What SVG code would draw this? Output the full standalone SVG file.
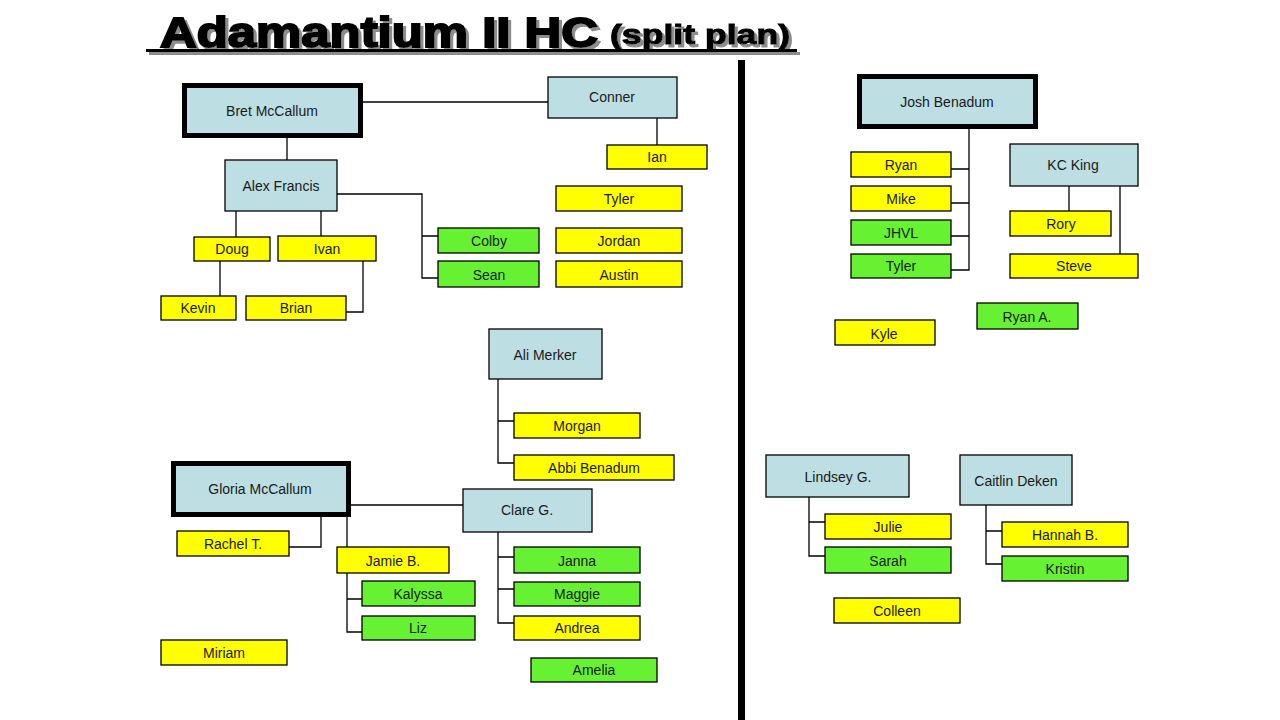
<svg xmlns="http://www.w3.org/2000/svg" width="1280" height="720" viewBox="0 0 1280 720">
<defs>
<filter id="sh" x="-5%" y="-30%" width="110%" height="160%">
  <feFlood flood-color="#8c8c8c" result="c"/>
  <feComposite in="c" in2="SourceAlpha" operator="in" result="s"/>
  <feOffset in="s" dx="3" dy="3" result="o"/>
  <feMerge><feMergeNode in="o"/><feMergeNode in="SourceGraphic"/></feMerge>
</filter>
</defs>
<style>
.b{fill:#bddfe3;stroke:#000;stroke-width:1.3}
.y{fill:#ffff00;stroke:#000;stroke-width:1.3}
.g{fill:#66f233;stroke:#000;stroke-width:1.3}
.k{stroke-width:5}
.t{font-family:"Liberation Sans",Arial,sans-serif;font-size:14px;text-anchor:middle;dominant-baseline:central;fill:#1a1a1a}
.c{fill:none;stroke:#000;stroke-width:1.3}
.ttl{font-family:"Liberation Sans",Arial,sans-serif;font-weight:bold}
</style>
<rect width="1280" height="720" fill="#fff"/>
<g id="title" filter="url(#sh)" fill="#000" stroke="#000">
  <text class="ttl" x="160" y="47" font-size="43" stroke-width="2" textLength="438" lengthAdjust="spacingAndGlyphs">Adamantium II HC</text>
  <text class="ttl" x="610" y="44" font-size="27" stroke-width="1" textLength="180" lengthAdjust="spacingAndGlyphs">(split plan)</text>
  <rect x="146" y="49" width="651" height="3" stroke="none"/>
</g>
<rect id="divider" x="738" y="60" width="7" height="660" fill="#000"/>
<g id="connectors">
  <path class="c" d="M363 102H548"/>
  <path class="c" d="M657 118V145"/>
  <path class="c" d="M287 138V160"/>
  <path class="c" d="M337 194H422V278H438M422 236H438"/>
  <path class="c" d="M236 211V237"/>
  <path class="c" d="M321 211V236"/>
  <path class="c" d="M220 261V296"/>
  <path class="c" d="M363 261V312H346"/>
  <path class="c" d="M498 379V463H514M498 421H514"/>
  <path class="c" d="M351 505H463"/>
  <path class="c" d="M321 517V547H289"/>
  <path class="c" d="M347 517V547M347 573V632H362M347 599H362"/>
  <path class="c" d="M498 532V623H514M498 557H514M498 589H514"/>
  <path class="c" d="M969 129V270H951M969 169H951M969 203H951M969 236H951"/>
  <path class="c" d="M1069 186V211"/>
  <path class="c" d="M1120 186V254"/>
  <path class="c" d="M809 497V556H825M809 522H825"/>
  <path class="c" d="M986 505V564H1002M986 531H1002"/>
</g>
<g id="bret"><rect class="b k" x="184.5" y="85.5" width="176" height="50"/><text class="t" x="272" y="111">Bret McCallum</text></g>
<g id="conner"><rect class="b" x="548" y="77" width="129" height="41"/><text class="t" x="612" y="97">Conner</text></g>
<g id="ian"><rect class="y" x="607" y="145" width="100" height="24"/><text class="t" x="657" y="157">Ian</text></g>
<g id="alex"><rect class="b" x="225" y="160" width="112" height="51"/><text class="t" x="281" y="186">Alex Francis</text></g>
<g id="doug"><rect class="y" x="194" y="237" width="76" height="24"/><text class="t" x="232" y="249">Doug</text></g>
<g id="ivan"><rect class="y" x="278" y="236" width="98" height="25"/><text class="t" x="327" y="249">Ivan</text></g>
<g id="kevin"><rect class="y" x="161" y="296" width="75" height="24"/><text class="t" x="198" y="308">Kevin</text></g>
<g id="brian"><rect class="y" x="246" y="296" width="100" height="24"/><text class="t" x="296" y="308">Brian</text></g>
<g id="colby"><rect class="g" x="438" y="228" width="101" height="25"/><text class="t" x="489" y="241">Colby</text></g>
<g id="sean"><rect class="g" x="438" y="261" width="101" height="26"/><text class="t" x="489" y="275">Sean</text></g>
<g id="tyler-l"><rect class="y" x="556" y="186" width="126" height="25"/><text class="t" x="619" y="199">Tyler</text></g>
<g id="jordan"><rect class="y" x="556" y="228" width="126" height="25"/><text class="t" x="619" y="241">Jordan</text></g>
<g id="austin"><rect class="y" x="556" y="261" width="126" height="26"/><text class="t" x="619" y="275">Austin</text></g>
<g id="ali"><rect class="b" x="489" y="329" width="113" height="50"/><text class="t" x="545" y="355">Ali Merker</text></g>
<g id="morgan"><rect class="y" x="514" y="413" width="126" height="25"/><text class="t" x="577" y="426">Morgan</text></g>
<g id="abbi"><rect class="y" x="514" y="455" width="160" height="25"/><text class="t" x="594" y="468">Abbi Benadum</text></g>
<g id="gloria"><rect class="b k" x="173.5" y="463.5" width="175" height="51"/><text class="t" x="260" y="489">Gloria McCallum</text></g>
<g id="clare"><rect class="b" x="463" y="489" width="129" height="43"/><text class="t" x="527" y="510">Clare G.</text></g>
<g id="rachel"><rect class="y" x="177" y="531" width="112" height="25"/><text class="t" x="233" y="544">Rachel T.</text></g>
<g id="jamie"><rect class="y" x="337" y="547" width="112" height="26"/><text class="t" x="393" y="561">Jamie B.</text></g>
<g id="kalyssa"><rect class="g" x="362" y="581" width="113" height="25"/><text class="t" x="418" y="594">Kalyssa</text></g>
<g id="liz"><rect class="g" x="362" y="616" width="113" height="24"/><text class="t" x="418" y="628">Liz</text></g>
<g id="janna"><rect class="g" x="514" y="547" width="126" height="26"/><text class="t" x="577" y="561">Janna</text></g>
<g id="maggie"><rect class="g" x="514" y="582" width="126" height="24"/><text class="t" x="577" y="594">Maggie</text></g>
<g id="andrea"><rect class="y" x="514" y="616" width="126" height="24"/><text class="t" x="577" y="628">Andrea</text></g>
<g id="miriam"><rect class="y" x="161" y="640" width="126" height="25"/><text class="t" x="224" y="653">Miriam</text></g>
<g id="amelia"><rect class="g" x="531" y="658" width="126" height="24"/><text class="t" x="594" y="670">Amelia</text></g>
<g id="josh"><rect class="b k" x="859.5" y="76.5" width="176" height="50"/><text class="t" x="947" y="102">Josh Benadum</text></g>
<g id="ryan"><rect class="y" x="851" y="152" width="100" height="25"/><text class="t" x="901" y="165">Ryan</text></g>
<g id="mike"><rect class="y" x="851" y="186" width="100" height="25"/><text class="t" x="901" y="199">Mike</text></g>
<g id="jhvl"><rect class="g" x="851" y="220" width="100" height="25"/><text class="t" x="901" y="233">JHVL</text></g>
<g id="tyler-r"><rect class="g" x="851" y="254" width="100" height="24"/><text class="t" x="901" y="266">Tyler</text></g>
<g id="kc"><rect class="b" x="1010" y="144" width="128" height="42"/><text class="t" x="1073" y="165">KC King</text></g>
<g id="rory"><rect class="y" x="1010" y="211" width="101" height="25"/><text class="t" x="1061" y="224">Rory</text></g>
<g id="steve"><rect class="y" x="1010" y="254" width="128" height="24"/><text class="t" x="1074" y="266">Steve</text></g>
<g id="ryan-a"><rect class="g" x="977" y="303" width="101" height="26"/><text class="t" x="1027" y="317">Ryan A.</text></g>
<g id="kyle"><rect class="y" x="835" y="320" width="100" height="25"/><text class="t" x="884" y="334">Kyle</text></g>
<g id="lindsey"><rect class="b" x="766" y="455" width="143" height="42"/><text class="t" x="838" y="477">Lindsey G.</text></g>
<g id="julie"><rect class="y" x="825" y="514" width="126" height="25"/><text class="t" x="888" y="527">Julie</text></g>
<g id="sarah"><rect class="g" x="825" y="547" width="126" height="26"/><text class="t" x="888" y="561">Sarah</text></g>
<g id="caitlin"><rect class="b" x="960" y="455" width="112" height="50"/><text class="t" x="1016" y="481">Caitlin Deken</text></g>
<g id="hannah"><rect class="y" x="1002" y="522" width="126" height="25"/><text class="t" x="1065" y="535">Hannah B.</text></g>
<g id="kristin"><rect class="g" x="1002" y="556" width="126" height="25"/><text class="t" x="1065" y="569">Kristin</text></g>
<g id="colleen"><rect class="y" x="834" y="598" width="126" height="25"/><text class="t" x="897" y="611">Colleen</text></g>
</svg>
